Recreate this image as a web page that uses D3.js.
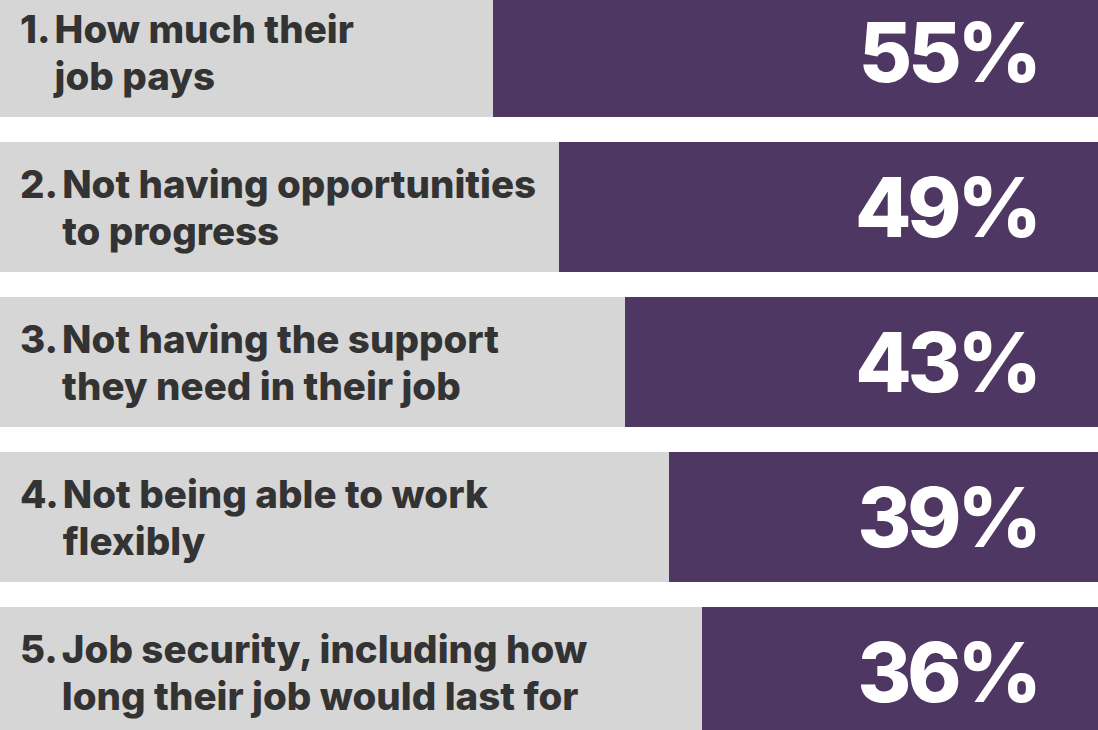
<!DOCTYPE html>
<html>
<head>
<meta charset="utf-8">
<script src="https://cdn.jsdelivr.net/npm/d3@7"></script>
<style>
  html, body { margin: 0; padding: 0; background: #ffffff; }
  svg { display: block; }
</style>
</head>
<body>
<div id="chart"></div>
<script>
// Top reasons, ranked
const ranks = ["1.", "2.", "3.", "4.", "5."];
const labelLine1 = [
  "How much their",
  "Not having opportunities",
  "Not having the support",
  "Not being able to work",
  "Job security, including how"
];
const labelLine2 = [
  "job pays",
  "to progress",
  "they need in their job",
  "flexibly",
  "long their job would last for"
];
const values = [55, 49, 43, 39, 36];

const W = 1098, H = 730;
const purple = "#4e3762", grey = "#d6d6d6", ink = "#333333";

const svg = d3.select("#chart").append("svg")
  .attr("width", W).attr("height", H);

// bars grow leftward from the right edge
const x = d3.scaleLinear().domain([0, 100]).range([W, -2]);
const y = d3.scaleBand().domain(ranks).range([-13, 737]).paddingInner(25 / 155).paddingOuter(0);

const rows = svg.selectAll("g.row")
  .data(ranks.map((r, i) => ({ rank: r, l1: labelLine1[i], l2: labelLine2[i], v: values[i] })))
  .join("g")
  .attr("class", "row")
  .attr("transform", d => `translate(0,${y(d.rank)})`);

rows.append("rect")
  .attr("x", 0).attr("y", 0)
  .attr("width", W).attr("height", y.bandwidth())
  .attr("fill", grey);

rows.append("rect")
  .attr("x", d => x(d.v)).attr("y", 0)
  .attr("width", d => W - x(d.v)).attr("height", y.bandwidth())
  .attr("fill", purple);

const labelFont = "'Inter', 'Roboto', sans-serif";
const bw = y.bandwidth();

function labelText(g, xPos, yPos, str) {
  return g.append("text")
    .attr("x", xPos).attr("y", yPos)
    .attr("font-family", labelFont).attr("font-weight", 800)
    .attr("font-size", 38.5).attr("fill", ink)
    .attr("letter-spacing", 0)
    .text(str);
}

rows.each(function (d) {
  const g = d3.select(this);
  const num = labelText(g, 20, bw / 2 - 9, d.rank);
  const indent = 20 + num.node().getComputedTextLength() + 4;
  labelText(g, indent, bw / 2 - 9, d.l1);
  labelText(g, indent, bw / 2 + 38, d.l2);
});

rows.append("text")
  .attr("x", 1038).attr("y", bw / 2 + 30)
  .attr("text-anchor", "end")
  .attr("font-family", labelFont).attr("font-weight", 800)
  .attr("font-size", 82).attr("fill", "#ffffff")
  .attr("letter-spacing", -4)
  .text(d => d.v + "%");
</script>
</body>
</html>
